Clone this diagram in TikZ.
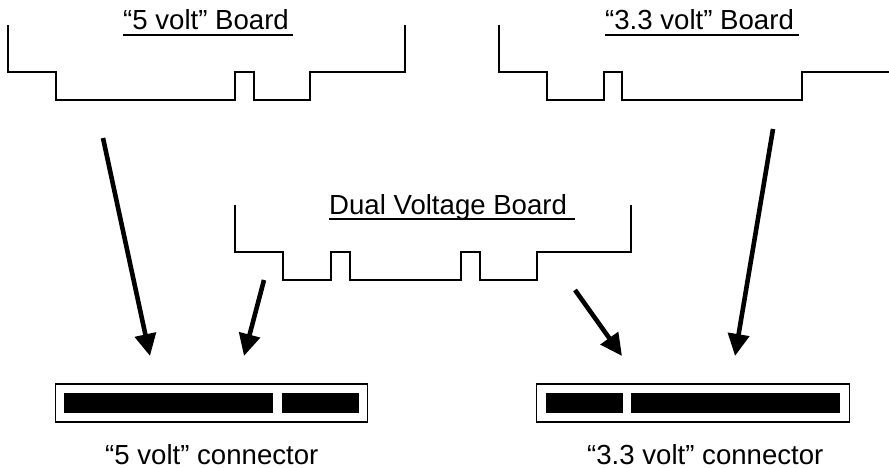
\documentclass[tikz,border=0pt]{standalone}
\usepackage{fontspec}
\setmainfont{Liberation Sans}
\usetikzlibrary{arrows.meta}

\begin{document}
\begin{tikzpicture}[x=1pt,y=-1pt, every node/.style={font=\fontsize{27.6}{30}\selectfont},
    boardline/.style={line width=1.2pt, line join=miter},
    titlerule/.style={line width=1.1pt},
    titletext/.style={anchor=base west, inner sep=0pt},
    socket/.style={draw, line width=1.2pt, rectangle, fill=white, minimum width=#1, minimum height=38pt, inner sep=0pt},
    slot/.style={rectangle, fill=black, minimum width=#1, minimum height=20pt, inner sep=0pt},
    fitarrow/.style={line width=4.6pt, -{Triangle[length=22pt,width=21pt]}}]
    \useasboundingbox (0,0) rectangle (889,468);
    % boards
    \draw[boardline] (8,25) -- (8,72) -- (56,72) -- (56,100) -- (235,100) -- (235,72) -- (254,72) -- (254,100) -- (310,100) -- (310,72) -- (405,72) -- (405,25);
    \draw[boardline] (499,25) -- (499,72) -- (547,72) -- (547,100) -- (604,100) -- (604,72) -- (622,72) -- (622,100) -- (802,100) -- (802,72) -- (889,72);
    \draw[boardline] (235,205) -- (235,252) -- (283,252) -- (283,280) -- (331,280) -- (331,252) -- (350,252) -- (350,280) -- (461,280) -- (461,252) -- (480,252) -- (480,280) -- (537,280) -- (537,252) -- (631,252) -- (631,205);
    \node[titletext] (fivetitle) at (123,30) {“5 volt” Board};
    \node[titletext] (threetitle) at (605,30) {“3.3 volt” Board};
    \node[titletext] (dualtitle) at (329,214) {Dual Voltage Board};
    \draw[titlerule] (123,35) -- (293,35);
    \draw[titlerule] (605,35) -- (799,35);
    \draw[titlerule] (329,219) -- (575,219);
    % connectors
    \node[socket=312.5pt] (fivesock) at (211.5,403) {};
    \node[slot=209pt] (fivelong) at (168.5,403) {};
    \node[slot=77pt] (fiveshort) at (320.5,403) {};
    \node[socket=312.5pt] (threesock) at (693,403) {};
    \node[slot=77pt] (threeshort) at (584.5,403) {};
    \node[slot=209pt] (threelong) at (735.5,403) {};
    \node[titletext] (fivename) at (105,464.5) {“5 volt” connector};
    \node[titletext] (threename) at (587,464.5) {“3.3 volt” connector};
    % arrows
    \coordinate (fivefrom) at (103,138);
    \coordinate (fiveto) at (150,356);
    \coordinate (dualleftfrom) at (264,280);
    \coordinate (dualleftto) at (244,356);
    \coordinate (dualrightfrom) at (575,290);
    \coordinate (dualrightto) at (622,356);
    \coordinate (threefrom) at (773,129);
    \coordinate (threeto) at (735,356);
    \draw[fitarrow] (fivefrom) -- (fiveto);
    \draw[fitarrow] (dualleftfrom) -- (dualleftto);
    \draw[fitarrow] (dualrightfrom) -- (dualrightto);
    \draw[fitarrow] (threefrom) -- (threeto);
\end{tikzpicture}
\end{document}
